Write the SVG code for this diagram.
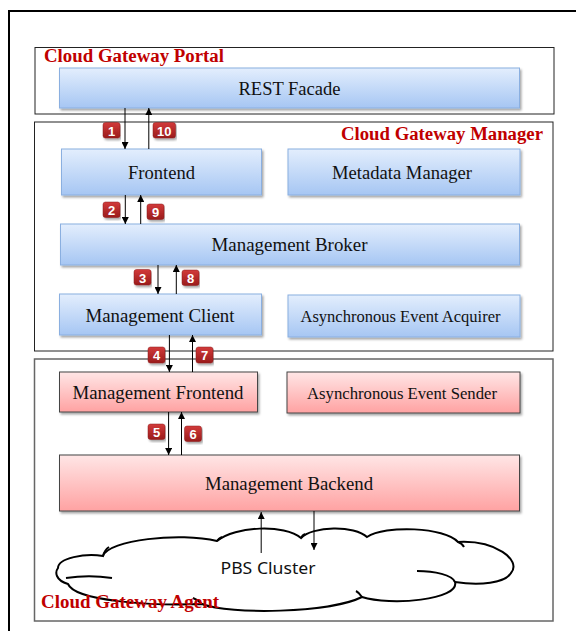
<svg xmlns="http://www.w3.org/2000/svg" width="576" height="631" viewBox="0 0 576 631">
<defs>
<linearGradient id="gb" x1="0" y1="0" x2="0" y2="1"><stop offset="0" stop-color="#e3eefd"/><stop offset="1" stop-color="#a6c6f3"/></linearGradient>
<linearGradient id="gr" x1="0" y1="0" x2="0" y2="1"><stop offset="0" stop-color="#ffe6e6"/><stop offset="1" stop-color="#ffa2a2"/></linearGradient>
<linearGradient id="gbad" x1="0" y1="0" x2="0" y2="1"><stop offset="0" stop-color="#d23a3a"/><stop offset="1" stop-color="#9a1c1c"/></linearGradient>
<filter id="sh" x="-5%" y="-10%" width="110%" height="130%"><feDropShadow dx="1.5" dy="2" stdDeviation="1.2" flood-color="#000" flood-opacity="0.35"/></filter>
<marker id="ah" viewBox="0 0 10 10" refX="10" refY="5" markerWidth="7" markerHeight="7" orient="auto" markerUnits="userSpaceOnUse"><path d="M0,0 L10,5 L0,10 z" fill="#000"/></marker>
</defs>
<style>
.grp{fill:#fff;stroke:#222;stroke-width:1}
.blue{fill:url(#gb);stroke:#8aafe0;stroke-width:1}
.red{fill:url(#gr);stroke:#444;stroke-width:1}
.t{font-family:"Liberation Serif","Times New Roman",serif;font-size:18px;fill:#111;text-anchor:middle}
.ts{font-family:"Liberation Serif","Times New Roman",serif;font-size:16px;fill:#111;text-anchor:middle}
.lab{font-family:"Liberation Serif","Times New Roman",serif;font-size:18px;font-weight:bold;fill:#c00000}
.ar{stroke:#000;stroke-width:1;fill:none;marker-end:url(#ah)}
.bad{fill:url(#gbad);stroke:#8a1a1a;stroke-width:0.5}
.bt{font-family:"Liberation Sans",Arial,sans-serif;font-size:13px;font-weight:bold;fill:#fff;text-anchor:middle}
.cl{fill:none;stroke:#000;stroke-width:2}
</style>
<rect x="0" y="0" width="576" height="631" fill="#fff"/>
<rect x="9" y="11" width="580" height="640" fill="none" stroke="#000" stroke-width="2"/>

<g id="portal">
<rect class="grp" x="35" y="47.5" width="519" height="66.5"/>
<text class="lab" x="44" y="62" textLength="180" lengthAdjust="spacingAndGlyphs">Cloud  Gateway Portal</text>
</g>
<g id="manager">
<rect class="grp" x="34.5" y="122" width="518.5" height="229"/>
<text class="lab" x="341" y="140" textLength="202" lengthAdjust="spacingAndGlyphs">Cloud  Gateway Manager</text>
</g>
<g id="agent">
<rect x="34.5" y="359" width="518.5" height="262" fill="#fff" stroke="#666" stroke-width="1.5"/>
</g>

<g id="rest-facade"><rect class="blue" filter="url(#sh)" x="59.5" y="68" width="460" height="40"/><text class="t" x="289.5" y="95" textLength="102" lengthAdjust="spacingAndGlyphs">REST Facade</text></g>
<g id="frontend"><rect class="blue" filter="url(#sh)" x="61.5" y="149" width="200" height="46"/><text class="t" x="161.5" y="179" textLength="67" lengthAdjust="spacingAndGlyphs">Frontend</text></g>
<g id="metadata-manager"><rect class="blue" filter="url(#sh)" x="288" y="149" width="232" height="46"/><text class="t" x="402" y="179" textLength="140" lengthAdjust="spacingAndGlyphs">Metadata  Manager</text></g>
<g id="management-broker"><rect class="blue" filter="url(#sh)" x="60.5" y="224" width="459" height="41"/><text class="t" x="289.5" y="250.5" textLength="156" lengthAdjust="spacingAndGlyphs">Management  Broker</text></g>
<g id="management-client"><rect class="blue" filter="url(#sh)" x="59.5" y="294" width="202" height="41"/><text class="t" x="160" y="321.5" textLength="149" lengthAdjust="spacingAndGlyphs">Management  Client</text></g>
<g id="async-event-acquirer"><rect class="blue" filter="url(#sh)" x="288" y="295" width="232" height="42"/><text class="ts" x="400.5" y="321.5" textLength="200" lengthAdjust="spacingAndGlyphs">Asynchronous Event Acquirer</text></g>
<g id="management-frontend"><rect class="red" filter="url(#sh)" x="59.5" y="372" width="198" height="40"/><text class="t" x="158" y="399" textLength="171" lengthAdjust="spacingAndGlyphs">Management  Frontend</text></g>
<g id="async-event-sender"><rect class="red" filter="url(#sh)" x="287" y="372" width="233" height="41"/><text class="ts" x="402" y="399" textLength="190" lengthAdjust="spacingAndGlyphs">Asynchronous Event  Sender</text></g>
<g id="management-backend"><rect class="red" filter="url(#sh)" x="59.5" y="455" width="460" height="56"/><text class="t" x="289" y="490" textLength="168" lengthAdjust="spacingAndGlyphs">Management  Backend</text></g>

<g id="pbs-cluster">
<path d="M58,568 C58,558 85,553 103,556 C108,540 180,532 217,541 C235,526 285,524 301,538 C312,526 355,525 367,537 C385,525 445,527 458,542 C495,540 522,560 511,573 C505,583 480,586 455,582 C460,600 390,606 362,597 C330,613 230,615 202,604 C150,606 75,601 68,584 C55,580 55,572 58,568 Z" fill="#fff" stroke="#000" stroke-width="2"/>
<path class="cl" d="M66,578 C80,576 98,576 112,578"/>
<path class="cl" d="M455,582 C452,575 435,571 417,571"/>
<path class="cl" d="M103,556 C104,552 106,549 109,547"/>
<path class="cl" d="M217,541 C218,539 220,538 222,537"/>
<path class="cl" d="M301,538 C302,536 303,535 305,534"/>
<path class="cl" d="M458,542 C461,543 463,545 464,547"/>
<path class="cl" d="M362,597 C360,594 358,592 356,591"/>
<path class="cl" d="M202,604 C199,601 196,599 193,598"/>
<text x="268" y="574" font-family="'Noto Sans','Open Sans','DejaVu Sans',sans-serif" font-size="17" fill="#111" text-anchor="middle" textLength="95" lengthAdjust="spacingAndGlyphs">PBS  Cluster</text>
</g>
<g id="agent-label"><text class="lab" x="41" y="608" textLength="178" lengthAdjust="spacingAndGlyphs">Cloud  Gateway Agent</text></g>

<g id="connectors">
<line class="ar" x1="125" y1="108" x2="125" y2="149"/>
<line class="ar" x1="148.8" y1="149" x2="148.8" y2="108"/>
<line class="ar" x1="125.3" y1="195" x2="125.3" y2="224"/>
<line class="ar" x1="140.7" y1="224" x2="140.7" y2="195"/>
<line class="ar" x1="158" y1="265" x2="158" y2="294"/>
<line class="ar" x1="176.3" y1="294" x2="176.3" y2="265"/>
<line class="ar" x1="169.4" y1="335" x2="169.4" y2="372"/>
<line class="ar" x1="192.5" y1="372" x2="192.5" y2="335"/>
<line class="ar" x1="168.6" y1="412" x2="168.6" y2="455"/>
<line class="ar" x1="181.5" y1="455" x2="181.5" y2="412"/>
<line class="ar" x1="261.2" y1="553" x2="261.2" y2="512"/>
<line class="ar" x1="314" y1="511" x2="314" y2="550"/>
</g>

<g id="badges">
<rect class="bad" filter="url(#sh)" x="103" y="122.5" width="17" height="15.5" rx="2.5"/><text class="bt" x="111.5" y="135.5">1</text>
<rect class="bad" filter="url(#sh)" x="153" y="122.5" width="22.5" height="15.5" rx="2.5"/><text class="bt" x="164.2" y="135.5">10</text>
<rect class="bad" filter="url(#sh)" x="103" y="202" width="17" height="15.5" rx="2.5"/><text class="bt" x="111.5" y="215">2</text>
<rect class="bad" filter="url(#sh)" x="147" y="204" width="17" height="15.5" rx="2.5"/><text class="bt" x="155.5" y="217">9</text>
<rect class="bad" filter="url(#sh)" x="134" y="269.5" width="17" height="15.5" rx="2.5"/><text class="bt" x="142.5" y="282.5">3</text>
<rect class="bad" filter="url(#sh)" x="182" y="270" width="17" height="15.5" rx="2.5"/><text class="bt" x="190.5" y="283">8</text>
<rect class="bad" filter="url(#sh)" x="148" y="347" width="17" height="16" rx="2.5"/><text class="bt" x="156.5" y="360">4</text>
<rect class="bad" filter="url(#sh)" x="196" y="347" width="17" height="16" rx="2.5"/><text class="bt" x="204.5" y="360">7</text>
<rect class="bad" filter="url(#sh)" x="148" y="424" width="17" height="15.5" rx="2.5"/><text class="bt" x="156.5" y="437">5</text>
<rect class="bad" filter="url(#sh)" x="184.5" y="426" width="17" height="15.5" rx="2.5"/><text class="bt" x="193" y="439">6</text>
</g>
</svg>
